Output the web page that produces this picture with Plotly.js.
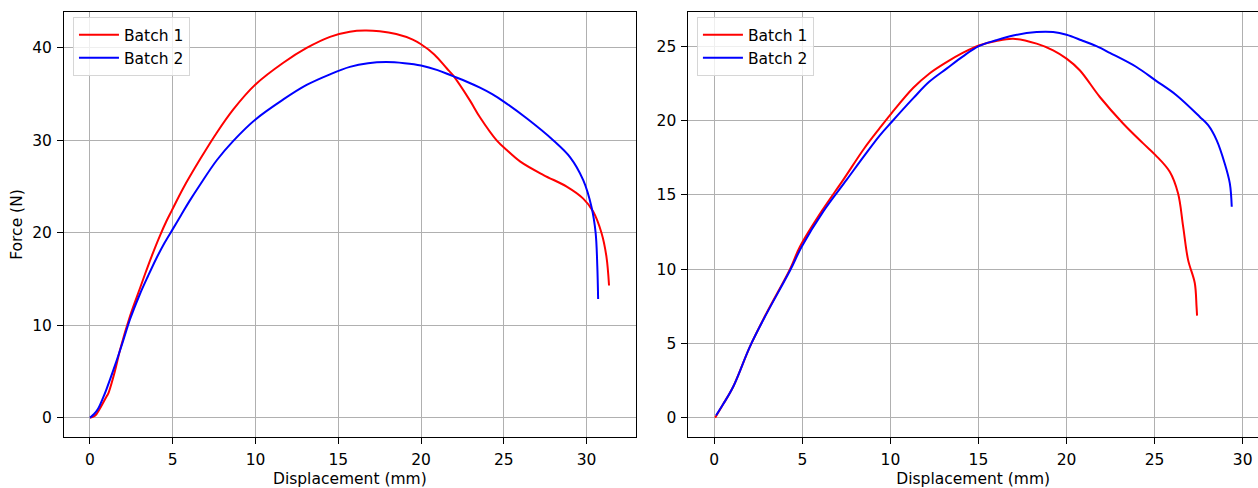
<!DOCTYPE html>
<html>
<head>
<meta charset="utf-8">
<script src="https://cdn.plot.ly/plotly-3.0.1.min.js"></script>
<style>
  html, body { margin: 0; padding: 0; background: #fff; }
  #chart { width: 1258px; height: 488px; }
</style>
</head>
<body>
<div id="chart"></div>
<script>
// ---- Data ----
// Left panel
const leftBatch1X = [0, 0.3, 0.6, 1.0, 1.1, 1.5, 1.81, 2.42, 3.02, 3.42, 3.8, 4.23, 4.63, 4.94, 5.64, 6.65, 7.66, 8.66, 10.0, 11.68, 13.09, 14.5, 15.7, 16.6, 17.5, 18.5, 19.5, 20.0, 20.8, 21.55, 21.95, 22.96, 23.56, 24.57, 25.18, 26.0, 27.4, 28.8, 29.8, 30.4, 30.9, 31.2, 31.36];
const leftBatch1Y = [0, 0.2, 1.0, 2.3, 2.6, 5.0, 7.3, 11.0, 14.0, 16.0, 17.8, 19.7, 21.3, 22.4, 24.85, 27.95, 30.83, 33.35, 36.05, 38.4, 40.0, 41.2, 41.75, 41.88, 41.8, 41.5, 40.9, 40.4, 39.3, 37.8, 37.0, 34.3, 32.5, 30.0, 28.95, 27.7, 26.25, 25.0, 23.7, 22.3, 20.0, 17.45, 14.3];
const leftBatch2X = [0, 0.25, 0.5, 0.8, 1.0, 1.5, 2.0, 2.42, 3.0, 3.5, 4.0, 4.5, 5.0, 5.5, 6.0, 6.65, 7.66, 8.66, 10.0, 11.68, 13.09, 14.5, 15.7, 16.8, 17.9, 19.0, 20.0, 21.0, 21.85, 22.7, 23.56, 24.3, 25.0, 26.4, 28.0, 29.0, 29.8, 30.3, 30.55, 30.65, 30.7];
const leftBatch2Y = [0, 0.4, 1.0, 2.2, 3.1, 5.6, 8.3, 10.65, 13.3, 15.3, 17.2, 18.9, 20.4, 21.9, 23.4, 25.2, 27.85, 29.95, 32.27, 34.43, 36.0, 37.15, 37.95, 38.35, 38.47, 38.35, 38.1, 37.6, 37.0, 36.4, 35.7, 35.0, 34.2, 32.37, 30.0, 28.2, 25.7, 22.8, 20.0, 16.4, 12.85];

// Right panel
const rightBatch1X = [0.05, 0.5, 1.08, 2.03, 2.97, 4.3, 4.86, 6.1, 7.32, 8.5, 9.4, 10.07, 11.3, 12.2, 13.19, 14.1, 15.02, 16.0, 16.97, 18.3, 19.24, 20.0, 20.75, 21.89, 23.21, 24.35, 25.05, 25.86, 26.33, 26.62, 26.9, 27.28, 27.38, 27.41];
const rightBatch1Y = [0, 0.9, 2.1, 4.8, 7.05, 10.0, 11.5, 13.9, 16.0, 18.1, 19.5, 20.5, 22.2, 23.15, 23.93, 24.55, 25.05, 25.35, 25.5, 25.17, 24.72, 24.16, 23.38, 21.58, 19.8, 18.46, 17.67, 16.55, 15.1, 12.86, 10.62, 9.06, 7.49, 6.87];
const rightBatch2X = [0.1, 0.5, 1.08, 2.03, 2.97, 4.3, 4.96, 6.2, 7.51, 8.5, 9.4, 10.07, 11.3, 12.2, 13.19, 14.1, 15.02, 16.0, 16.97, 18.3, 19.24, 20.0, 20.85, 21.7, 22.46, 23.97, 25.05, 26.24, 27.57, 28.04, 28.52, 28.98, 29.27, 29.38];
const rightBatch2Y = [0.15, 0.9, 2.1, 4.8, 7.0, 9.9, 11.5, 13.9, 16.0, 17.6, 19.0, 19.9, 21.5, 22.6, 23.49, 24.3, 25.0, 25.4, 25.72, 25.95, 25.95, 25.77, 25.4, 25.0, 24.55, 23.6, 22.7, 21.7, 20.24, 19.68, 18.68, 17.11, 15.77, 14.2];

const seriesNames = ["Batch 1", "Batch 2"];
const seriesColors = ["#ff0000", "#0000ff"];
const xTickVals = [0, 5, 10, 15, 20, 25, 30];
const leftYTicks = [0, 10, 20, 30, 40];
const rightYTicks = [0, 5, 10, 15, 20, 25];
const xTitle = "Displacement (mm)";
const yTitle = "Force (N)";

// ---- Traces ----
function mk(x, y, i, xa, ya, lg) {
  return {
    x: x, y: y, type: "scatter", mode: "lines",
    name: seriesNames[i], legend: lg, legendgroup: lg + i,
    xaxis: xa, yaxis: ya,
    line: { color: seriesColors[i], width: 2, shape: "spline", smoothing: 1 },
    hoverinfo: "skip"
  };
}
const data = [
  mk(leftBatch1X, leftBatch1Y, 0, "x", "y", "legend"),
  mk(leftBatch2X, leftBatch2Y, 1, "x", "y", "legend"),
  mk(rightBatch1X, rightBatch1Y, 0, "x2", "y2", "legend2"),
  mk(rightBatch2X, rightBatch2Y, 1, "x2", "y2", "legend2")
];

const FONT = "DejaVu Sans, sans-serif";
const FS = 15.5;
const axisCommon = {
  showline: true, mirror: true, linecolor: "#000", linewidth: 1,
  ticks: "outside", ticklen: 6, tickwidth: 1, tickcolor: "#000",
  ticklabelstandoff: 2,
  showgrid: true, gridcolor: "#b0b0b0", gridwidth: 1,
  zeroline: false, tickfont: { family: FONT, size: FS, color: "#000" },
  fixedrange: true
};
const W = 1258;
const legendCommon = {
  xanchor: "left", yanchor: "top",
  bgcolor: "rgba(255,255,255,0.8)", bordercolor: "#d6d6d6", borderwidth: 1,
  font: { family: FONT, size: FS, color: "#000" },
  traceorder: "grouped", tracegroupgap: 0, itemwidth: 40
};
const titleFont = { family: FONT, size: FS, color: "#000" };

const layout = {
  width: 1258, height: 488,
  margin: { l: 0, r: 0, t: 12, b: 51 },
  paper_bgcolor: "#fff", plot_bgcolor: "#fff",
  showlegend: true,
  xaxis: Object.assign({}, axisCommon, {
    domain: [64 / W, 635.7 / W], range: [-1.57, 32.97], anchor: "y",
    tickvals: xTickVals,
    title: { text: xTitle, font: titleFont, standoff: 6 }
  }),
  yaxis: Object.assign({}, axisCommon, {
    domain: [0, 1], range: [-2.09, 43.89], anchor: "x",
    tickvals: leftYTicks,
    title: { text: yTitle, font: titleFont, standoff: 5 }
  }),
  xaxis2: Object.assign({}, axisCommon, {
    domain: [688.4 / W, 1], range: [-1.47, 30.87], anchor: "y2",
    tickvals: xTickVals,
    title: { text: xTitle, font: titleFont, standoff: 6 }
  }),
  yaxis2: Object.assign({}, axisCommon, {
    domain: [0, 1], range: [-1.3, 27.3], anchor: "x2",
    tickvals: rightYTicks
  }),
  legend: Object.assign({}, legendCommon, { x: 0.058, y: 0.988 }),
  legend2: Object.assign({}, legendCommon, { x: 0.554, y: 0.988 })
};

Plotly.newPlot("chart", data, layout, { displayModeBar: false, staticPlot: true });
</script>
</body>
</html>
